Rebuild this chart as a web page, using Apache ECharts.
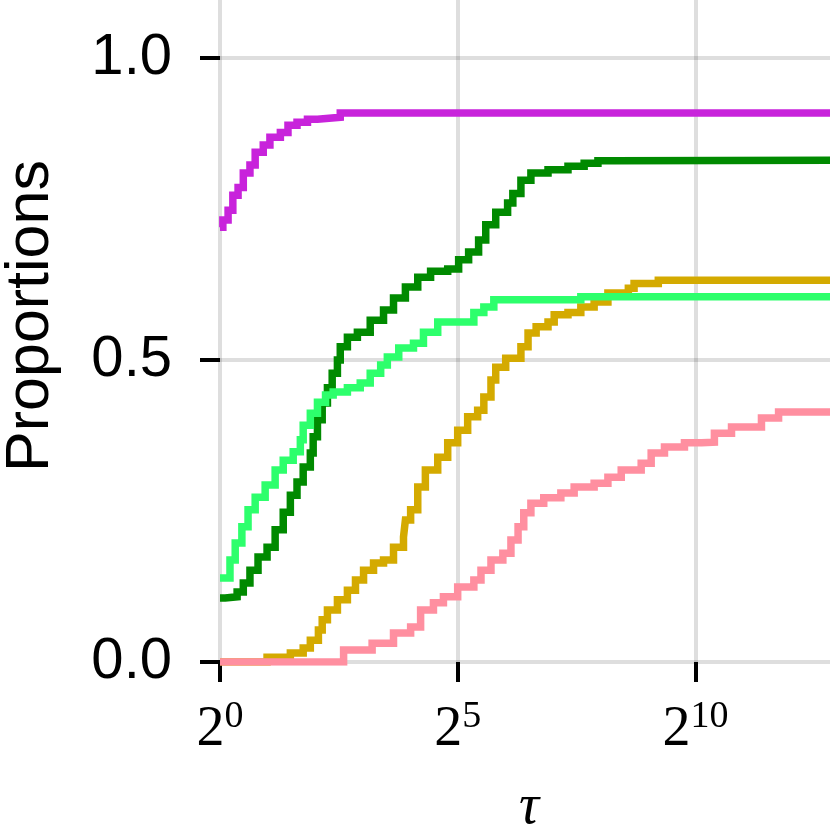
<!DOCTYPE html>
<html>
<head>
<meta charset="utf-8">
<script src="https://cdn.jsdelivr.net/npm/echarts@6/dist/echarts.min.js"></script>
<style>
html,body{margin:0;padding:0;background:#fff;}
#chart{width:830px;height:830px;}
</style>
</head>
<body>
<div id="chart"></div>
<script>
// x values are log2(tau); y values are proportions
const seriesNames = ['magenta', 'darkgreen', 'lightgreen', 'gold', 'pink'];
const seriesColors = ['#c823db', '#008a00', '#2dff6c', '#d4aa00', '#ff8fa0'];

const magentaX = [0, 0.06, 0.17, 0.27, 0.38, 0.49, 0.63, 0.74, 0.91, 1.05, 1.27, 1.43, 1.62, 1.84, 2.05, 2.53, 13];
const magentaY = [0.72, 0.732, 0.748, 0.773, 0.786, 0.81, 0.823, 0.844, 0.856, 0.869, 0.877, 0.889, 0.894, 0.899, 0.902, 0.909, 0.909];

const darkgreenX = [0, 0.11, 0.36, 0.49, 0.63, 0.8, 0.99, 1.16, 1.33, 1.48, 1.62, 1.75, 1.9, 1.96, 2.05, 2.15, 2.26, 2.36, 2.47, 2.53, 2.68, 2.89, 3.16, 3.44, 3.65, 3.9, 4.16, 4.43, 4.79, 5.02, 5.23, 5.44, 5.59, 5.8, 6.05, 6.16, 6.33, 6.54, 6.9, 7.32, 7.66, 7.95, 8.29, 13];
const darkgreenY = [0.106, 0.108, 0.116, 0.131, 0.152, 0.174, 0.19, 0.219, 0.248, 0.276, 0.298, 0.323, 0.346, 0.373, 0.401, 0.429, 0.454, 0.478, 0.5, 0.522, 0.538, 0.546, 0.566, 0.583, 0.603, 0.621, 0.637, 0.647, 0.651, 0.666, 0.679, 0.699, 0.724, 0.745, 0.76, 0.776, 0.798, 0.81, 0.815, 0.821, 0.826, 0.83, 0.831, 0.831];

const lightgreenX = [0, 0.21, 0.32, 0.46, 0.59, 0.74, 0.95, 1.16, 1.33, 1.54, 1.69, 1.75, 1.9, 2.05, 2.22, 2.38, 2.68, 2.95, 3.16, 3.38, 3.52, 3.76, 4.07, 4.28, 4.58, 5.34, 5.55, 5.76, 7.59, 13];
const lightgreenY = [0.139, 0.169, 0.197, 0.224, 0.252, 0.273, 0.293, 0.318, 0.334, 0.348, 0.368, 0.392, 0.412, 0.43, 0.442, 0.447, 0.454, 0.462, 0.478, 0.492, 0.505, 0.52, 0.528, 0.546, 0.563, 0.579, 0.588, 0.6, 0.605, 0.605];

const goldX = [0, 0.99, 1.48, 1.75, 1.9, 2.07, 2.15, 2.26, 2.47, 2.68, 2.85, 3.02, 3.23, 3.44, 3.65, 3.86, 3.9, 4.01, 4.16, 4.32, 4.58, 4.79, 5.0, 5.21, 5.42, 5.55, 5.7, 5.8, 6.01, 6.33, 6.48, 6.65, 6.9, 7.03, 7.32, 7.59, 7.87, 8.16, 8.59, 8.71, 9.22, 13];
const goldY = [0, 0.008, 0.015, 0.023, 0.036, 0.053, 0.07, 0.086, 0.103, 0.119, 0.136, 0.152, 0.164, 0.169, 0.19, 0.207, 0.235, 0.252, 0.29, 0.318, 0.339, 0.363, 0.384, 0.406, 0.417, 0.439, 0.467, 0.488, 0.503, 0.522, 0.545, 0.555, 0.563, 0.575, 0.579, 0.588, 0.596, 0.611, 0.619, 0.627, 0.632, 0.632];

const pinkX = [0, 2.6, 3.2, 3.65, 4.01, 4.22, 4.49, 4.7, 5.0, 5.34, 5.49, 5.7, 5.95, 6.12, 6.27, 6.39, 6.54, 6.81, 7.17, 7.45, 7.87, 8.16, 8.44, 8.86, 9.07, 9.35, 9.77, 10.13, 10.4, 10.76, 11.39, 11.75, 13];
const pinkY = [0, 0.02, 0.031, 0.048, 0.058, 0.086, 0.098, 0.108, 0.124, 0.136, 0.152, 0.169, 0.18, 0.202, 0.224, 0.247, 0.263, 0.272, 0.28, 0.29, 0.296, 0.306, 0.318, 0.329, 0.346, 0.356, 0.363, 0.364, 0.379, 0.389, 0.404, 0.414, 0.414];

const xTickExponents = [0, 5, 10];
const yTickLabels = ['0.0', '0.5', '1.0'];

function pairs(xs, ys) { return xs.map((x, i) => [x, ys[i]]); }

// drawing order: gold, pink, dark green, light green, magenta
const drawOrder = [
  {k: 3, data: pairs(goldX, goldY)},
  {k: 4, data: pairs(pinkX, pinkY)},
  {k: 1, data: pairs(darkgreenX, darkgreenY)},
  {k: 2, data: pairs(lightgreenX, lightgreenY)},
  {k: 0, data: pairs(magentaX, magentaY)}
];

const chart = echarts.init(document.getElementById('chart'), null, {renderer: 'canvas'});
const gridColor = 'rgba(0,0,0,0.13)';
chart.setOption({
  animation: false,
  backgroundColor: '#ffffff',
  grid: {left: 220, right: -8, top: -30, bottom: 168, containLabel: false, outerBoundsMode: 'none'},
  xAxis: {
    type: 'value', min: 0, max: 13, interval: 5,
    axisLine: {show: false},
    axisTick: {show: true, length: 20, lineStyle: {color: '#000', width: 4}},
    splitLine: {show: true, lineStyle: {color: gridColor, width: 4}},
    axisLabel: {
      margin: 36,
      formatter: function (v) {
        if (xTickExponents.indexOf(v) < 0) return '';
        return '{b|2}{s|' + v + '}';
      },
      rich: {
        b: {fontFamily: 'Liberation Serif', fontSize: 56, color: '#000', verticalAlign: 'bottom', lineHeight: 60},
        s: {fontFamily: 'Liberation Serif', fontSize: 38, color: '#000', verticalAlign: 'top', lineHeight: 60, padding: [0, 0, 22, 0]}
      }
    },
    name: 'τ',
    nameLocation: 'middle',
    nameGap: 118,
    nameTextStyle: {fontFamily: 'Liberation Serif', fontStyle: 'italic', fontSize: 56, color: '#000'}
  },
  yAxis: {
    type: 'value', min: 0, max: 1.146, interval: 0.5,
    axisLine: {show: false},
    axisTick: {show: true, length: 20, lineStyle: {color: '#000', width: 4}},
    splitLine: {show: true, lineStyle: {color: gridColor, width: 4}},
    axisLabel: {
      margin: 48,
      fontFamily: 'Liberation Sans', fontSize: 58, color: '#000',
      formatter: function (v) {
        const s = v.toFixed(1);
        return (Math.abs(v * 2 - Math.round(v * 2)) < 1e-9 && yTickLabels.indexOf(s) >= 0) ? s : '';
      }
    },
    name: 'Proportions',
    nameLocation: 'middle',
    nameRotate: 90,
    nameGap: 158,
    nameTextStyle: {fontFamily: 'Liberation Sans', fontSize: 61, color: '#000'}
  },
  series: drawOrder.map(function (d, j) {
    return {
      type: 'line',
      name: seriesNames[d.k],
      step: 'end',
      showSymbol: false,
      symbol: 'none',
      clip: true,
      data: d.data,
      lineStyle: {color: seriesColors[d.k], width: 7.5, cap: 'butt', join: 'miter'},
      z: 2 + j
    };
  })
});
</script>
</body>
</html>
